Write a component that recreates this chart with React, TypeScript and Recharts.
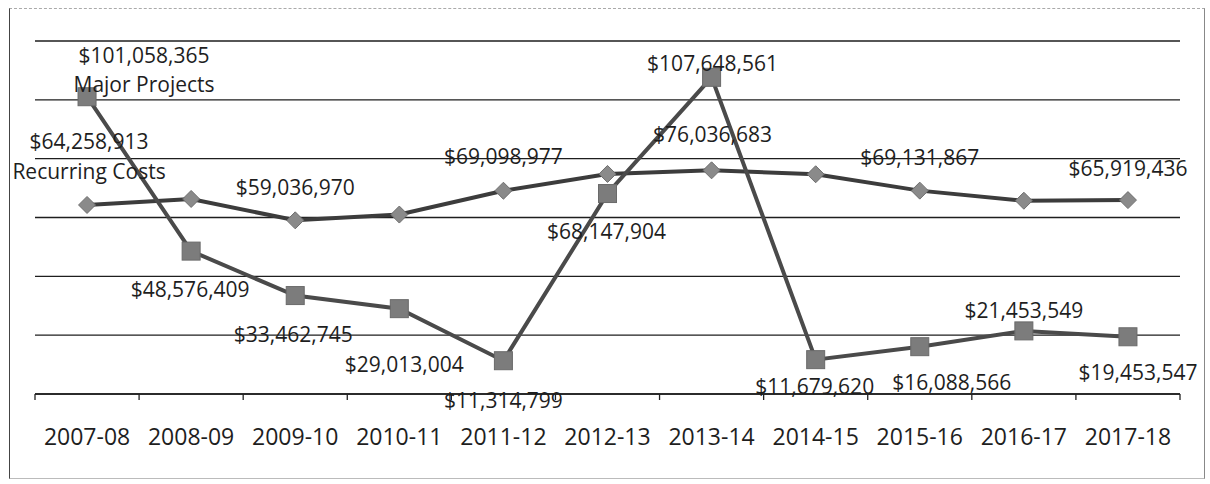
import React from "react";
import { CartesianGrid, LabelList, Line, LineChart, XAxis, YAxis } from "recharts";

const YEARS = [
    "2007-08", "2008-09", "2009-10", "2010-11", "2011-12", "2012-13",
    "2013-14", "2014-15", "2015-16", "2016-17", "2017-18",
];
const MAJOR_PROJECTS = [
    101058365, 48576409, 33462745, 29013004, 11314799, 68147904,
    107648561, 11679620, 16088566, 21453549, 19453547,
];
const RECURRING_COSTS = [
    64258913, 66300000, 59036970, 61000000, 69098977, 74800000,
    76036683, 74700000, 69131867, 65700000, 65919436,
];
const RECURRING_LABELLED = [true, false, true, false, true, false, true, false, true, false, true];
const Y_TICKS = [0, 20000000, 40000000, 60000000, 80000000, 100000000, 120000000];

const data = YEARS.map((year, i) => ({
    year,
    major: MAJOR_PROJECTS[i],
    recurring: RECURRING_COSTS[i],
}));

const W = 1210;
const H = 484;
const MARGIN = { top: 41, right: 30, bottom: 40, left: 35 };
const HALF_BAND = (W - MARGIN.left - MARGIN.right) / 22;

const FONT = "'Open Sans', sans-serif";
const LABEL_SIZE = 21;
const TEXT = "#1e1e1e";

// where each value label sits, relative to its marker (text centre)
const MAJOR_LABEL_POS = [
    [57, -42], [-1, 38], [-2, 38], [5, 55], [0, 39], [-1, 37],
    [1, -14], [-1, 26], [32, 35], [0, -21], [10, 35],
];
const RECURRING_LABEL_POS = [
    [2, -64], [0, 0], [0, -33], [0, 0], [0, -35], [0, 0],
    [1, -36], [0, 0], [0, -34], [0, 0], [0, -32],
];

const fmt = (v: number) => "$" + v.toLocaleString("en-US");

function Square(props: any) {
    const { cx, cy, index } = props;
    if (cx == null || cy == null) return <g key={index} />;
    return (
        <rect
            key={index}
            x={cx - 9}
            y={cy - 9}
            width={18}
            height={18}
            fill="#7c7c7c"
            stroke="#6a6a6a"
            strokeWidth={1}
        />
    );
}

function Diamond(props: any) {
    const { cx, cy, index } = props;
    if (cx == null || cy == null) return <g key={index} />;
    const r = 8.5;
    return (
        <polygon
            key={index}
            points={`${cx},${cy - r} ${cx + r},${cy} ${cx},${cy + r} ${cx - r},${cy}`}
            fill="#8a8a8a"
            stroke="#6e6e6e"
            strokeWidth={1}
        />
    );
}

function MajorLabel(props: any) {
    const { x, y, index, value } = props;
    const [dx, dy] = MAJOR_LABEL_POS[index];
    return (
        <g>
            <text
                x={x + dx}
                y={y + dy}
                textAnchor="middle"
                dominantBaseline="central"
                fontFamily={FONT}
                fontSize={LABEL_SIZE}
                fill={TEXT}
            >
                {fmt(value)}
            </text>
            {index === 0 && (
                <text
                    x={x + dx}
                    y={y + dy + 29}
                    textAnchor="middle"
                    dominantBaseline="central"
                    fontFamily={FONT}
                    fontSize={LABEL_SIZE}
                    fill={TEXT}
                >
                    Major Projects
                </text>
            )}
        </g>
    );
}

function RecurringLabel(props: any) {
    const { x, y, index, value } = props;
    if (!RECURRING_LABELLED[index]) return null;
    const [dx, dy] = RECURRING_LABEL_POS[index];
    return (
        <g>
            <text
                x={x + dx}
                y={y + dy}
                textAnchor="middle"
                dominantBaseline="central"
                fontFamily={FONT}
                fontSize={LABEL_SIZE}
                fill={TEXT}
            >
                {fmt(value)}
            </text>
            {index === 0 && (
                <text
                    x={x + dx}
                    y={y + dy + 30}
                    textAnchor="middle"
                    dominantBaseline="central"
                    fontFamily={FONT}
                    fontSize={LABEL_SIZE}
                    fill={TEXT}
                >
                    Recurring Costs
                </text>
            )}
        </g>
    );
}

function YearTick(props: any) {
    const { x, y, payload, index } = props;
    const last = index === YEARS.length - 1;
    return (
        <g>
            <line x1={x - HALF_BAND} x2={x - HALF_BAND} y1={y} y2={y + 6} stroke="#222" strokeWidth={1.3} />
            {last && (
                <line x1={x + HALF_BAND} x2={x + HALF_BAND} y1={y} y2={y + 6} stroke="#222" strokeWidth={1.3} />
            )}
            <text
                x={x}
                y={y + 42}
                textAnchor="middle"
                dominantBaseline="central"
                fontFamily={FONT}
                fontSize={23}
                fill={TEXT}
            >
                {payload.value}
            </text>
        </g>
    );
}

export default function App() {
    return (
        <div style={{ position: "relative", width: W, height: H, background: "#fff" }}>
            <style>{"body{margin:0}"}</style>
            <div
                style={{
                    position: "absolute",
                    left: 9,
                    top: 8,
                    width: 1196,
                    height: 471,
                    borderLeft: "1.5px solid #444",
                    borderTop: "1.5px dashed #aaa",
                    borderRight: "1.5px solid #888",
                    borderBottom: "1.5px solid #bbb",
                    boxSizing: "border-box",
                }}
            />
            <LineChart
                width={W}
                height={H}
                data={data}
                margin={MARGIN}
                style={{ position: "absolute", left: 0, top: 0 }}
            >
                <CartesianGrid vertical={false} stroke="#1e1e1e" strokeWidth={1.4} />
                <YAxis hide domain={[0, 120000000]} ticks={Y_TICKS} />
                <XAxis
                    dataKey="year"
                    interval={0}
                    padding={{ left: HALF_BAND, right: HALF_BAND }}
                    height={50}
                    tickSize={0}
                    tickMargin={0}
                    tickLine={false}
                    axisLine={{ stroke: "#1e1e1e", strokeWidth: 1.6 }}
                    tick={<YearTick />}
                />
                <Line
                    dataKey="recurring"
                    stroke="#3c3c3c"
                    strokeWidth={4}
                    dot={<Diamond />}
                    activeDot={false}
                    isAnimationActive={false}
                >
                    <LabelList dataKey="recurring" content={<RecurringLabel />} />
                </Line>
                <Line
                    dataKey="major"
                    stroke="#4a4a4a"
                    strokeWidth={4}
                    dot={<Square />}
                    activeDot={false}
                    isAnimationActive={false}
                >
                    <LabelList dataKey="major" content={<MajorLabel />} />
                </Line>
            </LineChart>
        </div>
    );
}
